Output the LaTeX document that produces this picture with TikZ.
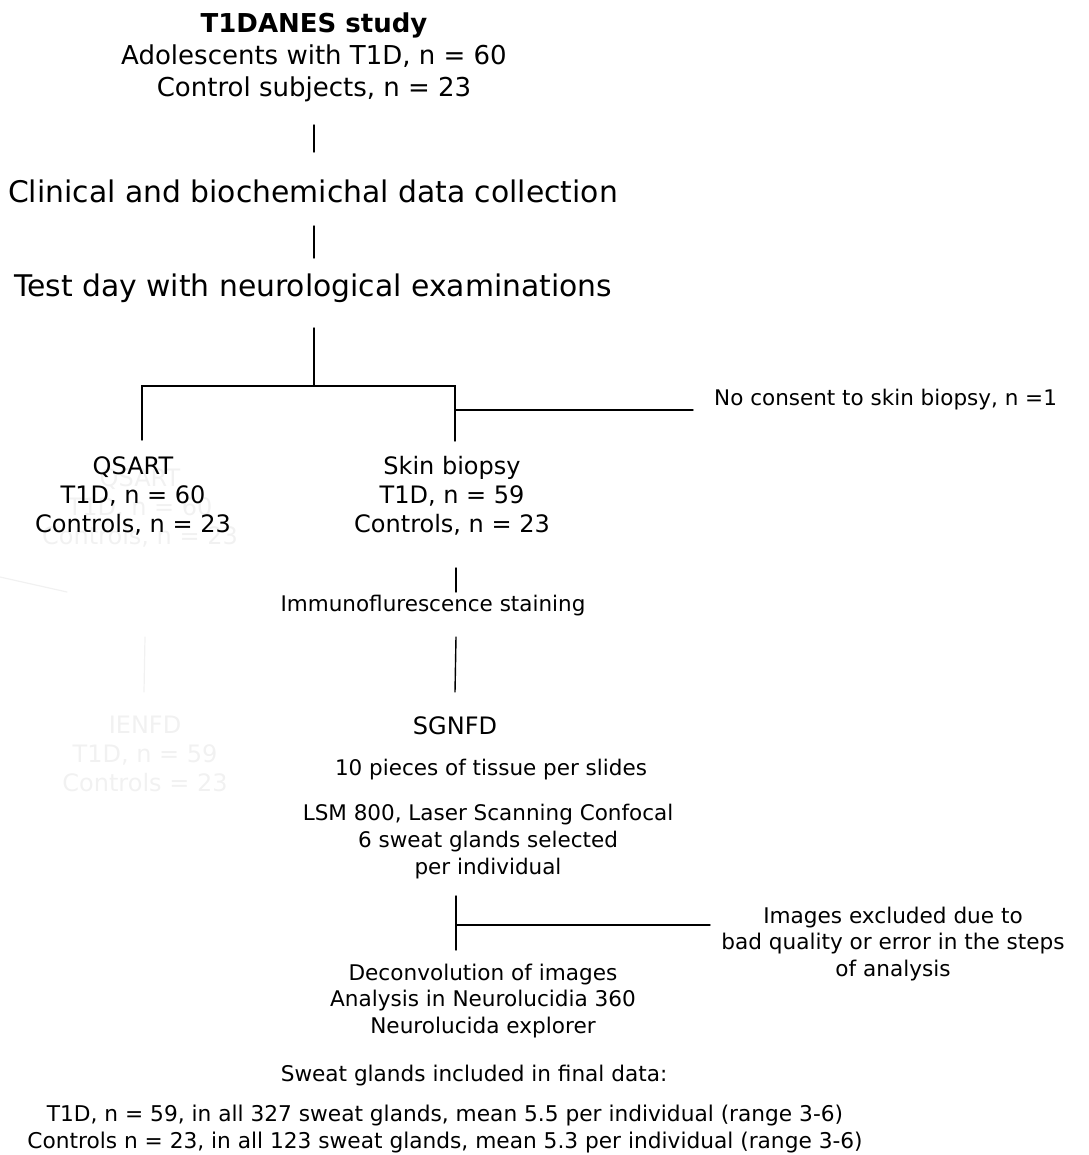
\documentclass[tikz,border=0pt]{standalone}
\usepackage{fontspec}
\setmainfont{DejaVu Sans}
\usepackage{xcolor}
\usetikzlibrary{calc}
\definecolor{ink}{HTML}{000000}
\definecolor{ghost}{HTML}{F1F1F1}
\tikzset{
  base/.style={draw=ink, line width=1.4pt, line cap=round},
  faint/.style={draw=ghost, line width=1.2pt, line cap=round},
  lab/.style={text=ink, align=center, inner sep=0pt, font=\fontsize{21.5}{27}\selectfont},
  labm/.style={lab, font=\fontsize{24}{29}\selectfont},
  labl/.style={lab, font=\fontsize{26}{32}\selectfont},
  labh/.style={lab, font=\fontsize{29.8}{34}\selectfont},
  labs/.style={lab, font=\fontsize{21.6}{26.5}\selectfont},
  ghostlab/.style={labm, text=ghost},
}
\begin{document}
\begin{tikzpicture}[x=1pt,y=-1pt]
  \useasboundingbox (0,0) rectangle (1088,1155);
  % faint traces left in the figure
  \node[ghostlab] (qsartg) at (140,508) {QSART\\T1D, n = 60\\Controls, n = 23};
  \node[ghostlab] (ienfd) at (145,754) {IENFD\\T1D, n = 59\\Controls = 23};
  \coordinate (g1) at (0,577);
  \coordinate (g2) at (67,592);
  \coordinate (g3) at (145,637);
  \coordinate (g4) at (144,692);
  \draw[faint] (g1) -- (g2);
  \draw[faint] (g3) -- (g4);

  % main column
  \node[labl] (study) at (314,57) {\textbf{T1DANES study}\\Adolescents with T1D, n = 60\\Control subjects, n = 23};
  \node[labh] (clin) at (313,191) {Clinical and biochemichal data collection};
  \node[labh] (test) at (313,288) {Test day with neurological examinations};
  \node[labm] (qsart) at (133,496) {QSART\\T1D, n = 60\\Controls, n = 23};
  \node[labm] (skin) at (452,496) {Skin biopsy\\T1D, n = 59\\Controls, n = 23};
  \node[lab, anchor=west] (nocons) at (714,400) {No consent to skin biopsy, n =1};
  \node[lab] (immuno) at (433,606) {Immunoflurescence staining};
  \node[labm] (sgnfd) at (455,726) {SGNFD};
  \node[lab] (pieces) at (491,770) {10 pieces of tissue per slides};
  \node[lab] (lsm) at (488,842) {LSM 800, Laser Scanning Confocal\\6 sweat glands selected\\per individual};
  \node[labs] (excl) at (893,944) {Images excluded due to\\bad quality or error in the steps\\of analysis};
  \node[labs] (deconv) at (483,1001) {Deconvolution of images\\Analysis in Neurolucidia 360\\Neurolucida explorer};
  \node[labs] (final) at (474,1076) {Sweat glands included in final data:};
  \node[labs, font=\fontsize{21.7}{27}\selectfont] (result) at (445,1129) {T1D, n = 59, in all 327 sweat glands, mean 5.5 per individual (range 3-6)\\Controls n = 23, in all 123 sweat glands, mean 5.3 per individual (range 3-6)};

  % connectors
  \coordinate (a1) at (314,125);
  \coordinate (a2) at (314,152);
  \coordinate (b1) at (314,226);
  \coordinate (b2) at (314,258);
  \coordinate (c1) at (314,328);
  \coordinate (c2) at (314,386);
  \coordinate (sl) at (142,386);
  \coordinate (sr) at (455,386);
  \coordinate (sld) at (142,440);
  \coordinate (srd) at (455,441);
  \coordinate (nc1) at (455,410);
  \coordinate (nc2) at (693,410);
  \coordinate (d1) at (456,568);
  \coordinate (d2) at (456,592);
  \coordinate (e1) at (456,637);
  \coordinate (e2) at (455,692);
  \coordinate (f1) at (456,896);
  \coordinate (f2) at (456,950);
  \coordinate (ex1) at (456,925);
  \coordinate (ex2) at (710,925);
  \draw[base] (a1) -- (a2);
  \draw[base] (b1) -- (b2);
  \draw[base] (c1) -- (c2);
  \draw[base] (sld) -- (sl) -- (sr) -- (srd);
  \draw[base] (nc1) -- (nc2);
  \draw[base] (d1) -- (d2);
  \draw[base] (e1) -- (e2);
  \draw[base] (f1) -- (f2);
  \draw[base] (ex1) -- (ex2);
\end{tikzpicture}
\end{document}
